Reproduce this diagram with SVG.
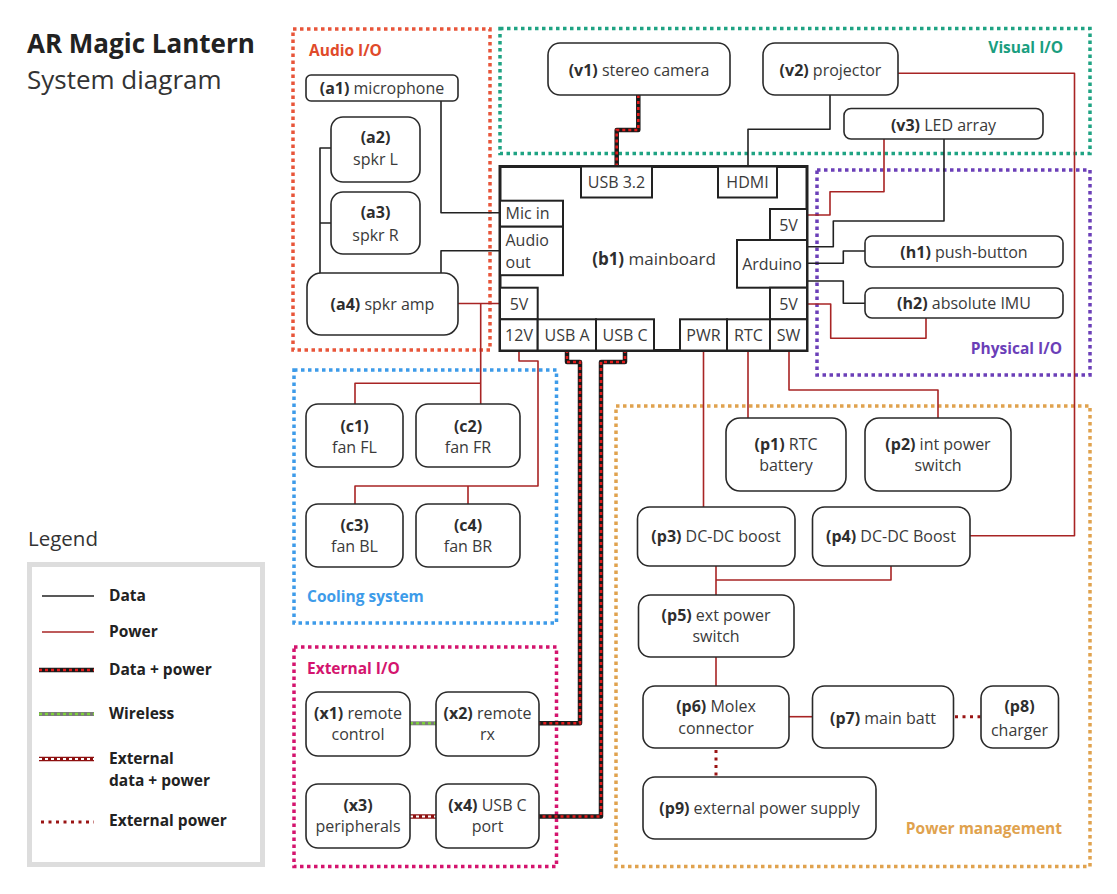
<svg xmlns="http://www.w3.org/2000/svg" width="1117" height="894" viewBox="0 0 1117 894">
<style>
text{font-family:"Open Sans","Noto Sans","Liberation Sans",sans-serif;fill:#3a3a3a;}
.t{font-size:16px;text-anchor:middle;}
.s{font-size:16px;}
.b{font-weight:bold;fill:#2e2e2e;}
.grp{fill:none;stroke-width:3.5;stroke-dasharray:3.5 3.5;}
.glab{font-size:15.5px;font-weight:bold;}
.lg{font-size:15.5px;font-weight:bold;fill:#222;}
.node{fill:#fff;stroke:#2a2a2a;stroke-width:1.6;}
.board{fill:#fff;stroke:#222;stroke-width:3;}
.sub{fill:#fff;stroke:#222;stroke-width:2;}
.data{fill:none;stroke:#222;stroke-width:1.6;stroke-linejoin:round;}
.pow{fill:none;stroke:#a82424;stroke-width:1.6;stroke-linejoin:round;}
.dpb{fill:none;stroke:#1a1a1a;stroke-width:4.5;stroke-linejoin:round;}
.dpd{fill:none;stroke:#e21b1b;stroke-width:2.6;stroke-dasharray:3 3;}
.wlb{fill:none;stroke:#7a7a7a;stroke-width:4;}
.wld{fill:none;stroke:#7dd13a;stroke-width:2.6;stroke-dasharray:3 3;}
.edb{fill:none;stroke:#8e1010;stroke-width:4.5;}
.edd{fill:none;stroke:#fff;stroke-width:2;stroke-dasharray:3 3;}
.ep{fill:none;stroke:#9a1414;stroke-width:3;stroke-dasharray:3 4.5;}
</style>
<rect width="1117" height="894" fill="#fff"/>

<!-- Title -->
<text x="27" y="53" style="font-size:26px;font-weight:bold;fill:#222">AR Magic Lantern</text>
<text x="27" y="89" style="font-size:26px;fill:#333">System diagram</text>

<!-- Group borders -->
<g id="groups">
<rect class="grp" x="293" y="29" width="197" height="321" stroke="#e8553a"/>
<text class="glab" x="309" y="56" style="fill:#e04a2a">Audio I/O</text>
<rect class="grp" x="500" y="28.5" width="590" height="125" stroke="#1fa383"/>
<text class="glab" x="1063" y="53" text-anchor="end" style="fill:#1a9e80">Visual I/O</text>
<rect class="grp" x="817" y="170" width="273" height="205" stroke="#6b3fb8"/>
<text class="glab" x="1062" y="354" text-anchor="end" style="fill:#6b3fb8">Physical I/O</text>
<rect class="grp" x="294" y="370" width="262.5" height="253" stroke="#3d9be9"/>
<text class="glab" x="307" y="602" style="fill:#3d9be9">Cooling system</text>
<rect class="grp" x="294" y="647" width="262.5" height="219.5" stroke="#d4146e"/>
<text class="glab" x="307" y="674" style="fill:#d4146e">External I/O</text>
<rect class="grp" x="616" y="406" width="474" height="460.5" stroke="#e0a24e"/>
<text class="glab" x="1062" y="834" text-anchor="end" style="fill:#e0a24e">Power management</text>
</g>

<!-- Connectors -->
<g id="connectors">
<path class="data" d="M441,101 V212.7 H500"/>
<path class="data" d="M331,148 H320 V273 M320,223 H331"/>
<path class="data" d="M441,273 V250.7 H500"/>
<path class="data" d="M830,95 V129.3 H748 V166"/>
<path class="data" d="M944,139 V221 H833.3 V246.7 H807"/>
<path class="data" d="M865,251 H843.3 V263.3 H807"/>
<path class="data" d="M865,303.3 H843.3 V281 H807"/>

<path class="pow" d="M458,303.5 H500"/>
<path class="pow" d="M480.7,303.5 V404 M480.7,383.3 H355 V404"/>
<path class="pow" d="M519,350 V361 H538 V486 H355 V504 M468,486 V504"/>
<path class="pow" d="M884,139 V191.7 H830 V215 H807"/>
<path class="pow" d="M926,317.5 V338.3 H830.7 V304 H807"/>
<path class="pow" d="M898,73.3 H1074.5 V535.7 H970"/>
<path class="pow" d="M703.5,350 V507"/>
<path class="pow" d="M748,350 V418"/>
<path class="pow" d="M789,350 V390 H938 V418"/>
<path class="pow" d="M716,566 V595"/>
<path class="pow" d="M891,566 V580 H716"/>
<path class="pow" d="M716,657 V686"/>
<path class="pow" d="M789,716.7 H812"/>

<path class="dpb" d="M638.3,95 V130 H616.7 V166"/>
<path class="dpd" d="M638.3,95 V130 H616.7 V166"/>
<path class="dpb" d="M567,350 V362 H580 V723.3 H539"/>
<path class="dpd" d="M567,350 V362 H580 V723.3 H539"/>
<path class="dpb" d="M625,350 V362 H601 V816.5 H539"/>
<path class="dpd" d="M625,350 V362 H601 V816.5 H539"/>

<path class="wlb" d="M410,723.3 H436"/>
<path class="wld" d="M410,723.3 H436"/>
<path class="edb" d="M410,816.5 H436"/>
<path class="edd" d="M410,816.5 H436"/>
<path class="ep" d="M955,716.7 H981"/>
<path class="ep" d="M716,750 V777"/>
</g>

<!-- Mainboard -->
<g id="b1">
<rect class="board" x="500" y="166.5" width="307" height="184"/>
<rect class="sub" x="581" y="166.5" width="71" height="31"/>
<text class="t" x="616.5" y="187.5">USB 3.2</text>
<rect class="sub" x="718" y="166.5" width="59" height="31"/>
<text class="t" x="747.5" y="187.5">HDMI</text>
<rect class="sub" x="500" y="200.7" width="63" height="26"/>
<text class="s" x="505.5" y="219">Mic in</text>
<rect class="sub" x="500" y="226.7" width="63" height="48.5"/>
<text class="s" x="505.5" y="245.5">Audio</text>
<text class="s" x="505.5" y="267.5">out</text>
<rect class="sub" x="770" y="209" width="37" height="31"/>
<text class="t" x="788.5" y="230.5">5V</text>
<rect class="sub" x="737" y="240" width="70" height="47.7"/>
<text class="t" x="772" y="270">Arduino</text>
<rect class="sub" x="770" y="287.7" width="37" height="31.6"/>
<text class="t" x="788.5" y="310">5V</text>
<rect class="sub" x="500" y="287.7" width="37.7" height="31.6"/>
<text class="t" x="519" y="310">5V</text>
<rect class="sub" x="500" y="319.3" width="37.7" height="31.2"/>
<text class="t" x="519" y="340.5">12V</text>
<rect class="sub" x="537.7" y="319.3" width="58.3" height="31.2"/>
<text class="t" x="567" y="340.5">USB A</text>
<rect class="sub" x="596" y="319.3" width="58" height="31.2"/>
<text class="t" x="625" y="340.5">USB C</text>
<rect class="sub" x="680" y="319.3" width="47" height="31.2"/>
<text class="t" x="703.5" y="340.5">PWR</text>
<rect class="sub" x="727" y="319.3" width="43" height="31.2"/>
<text class="t" x="748.5" y="340.5">RTC</text>
<rect class="sub" x="770" y="319.3" width="37" height="31.2"/>
<text class="t" x="788.5" y="340.5">SW</text>
<text class="t" x="654" y="265" style="font-size:17px"><tspan class="b">(b1)</tspan> mainboard</text>
</g>

<!-- Audio -->
<g id="a1"><rect class="node" x="306" y="75" width="152" height="26" rx="5"/>
<text class="t" x="382" y="93.5"><tspan class="b">(a1)</tspan> microphone</text></g>
<g id="a2"><rect class="node" x="331" y="117" width="89" height="65" rx="12"/>
<text class="t b" x="375.5" y="143">(a2)</text><text class="t" x="375.5" y="164.5">spkr L</text></g>
<g id="a3"><rect class="node" x="331" y="192" width="89" height="62" rx="12"/>
<text class="t b" x="375.5" y="218">(a3)</text><text class="t" x="375.5" y="241">spkr R</text></g>
<g id="a4"><rect class="node" x="307" y="273" width="151" height="62" rx="14"/>
<text class="t" x="382.5" y="309.5"><tspan class="b">(a4)</tspan> spkr amp</text></g>

<!-- Visual -->
<g id="v1"><rect class="node" x="548" y="43" width="182" height="52" rx="12"/>
<text class="t" x="639" y="75.5"><tspan class="b">(v1)</tspan> stereo camera</text></g>
<g id="v2"><rect class="node" x="763" y="43" width="135" height="52" rx="12"/>
<text class="t" x="830.5" y="75.5"><tspan class="b">(v2)</tspan> projector</text></g>
<g id="v3"><rect class="node" x="844" y="108.5" width="199" height="30.5" rx="7"/>
<text class="t" x="943.5" y="130.5"><tspan class="b">(v3)</tspan> LED array</text></g>

<!-- Physical -->
<g id="h1"><rect class="node" x="865" y="236" width="198" height="31" rx="7"/>
<text class="t" x="964" y="257.5"><tspan class="b">(h1)</tspan> push-button</text></g>
<g id="h2"><rect class="node" x="865" y="288" width="198" height="30" rx="7"/>
<text class="t" x="964" y="309"><tspan class="b">(h2)</tspan> absolute IMU</text></g>

<!-- Cooling -->
<g id="c1"><rect class="node" x="306" y="404" width="97" height="63" rx="12"/>
<text class="t b" x="354.5" y="432">(c1)</text><text class="t" x="354.5" y="452.5">fan FL</text></g>
<g id="c2"><rect class="node" x="416" y="404" width="104" height="63" rx="12"/>
<text class="t b" x="468" y="432">(c2)</text><text class="t" x="468" y="452.5">fan FR</text></g>
<g id="c3"><rect class="node" x="306" y="504" width="97" height="63" rx="12"/>
<text class="t b" x="354.5" y="531">(c3)</text><text class="t" x="354.5" y="551.5">fan BL</text></g>
<g id="c4"><rect class="node" x="416" y="504" width="104" height="63" rx="12"/>
<text class="t b" x="468" y="531">(c4)</text><text class="t" x="468" y="551.5">fan BR</text></g>

<!-- External -->
<g id="x1"><rect class="node" x="306" y="692" width="104" height="64" rx="12"/>
<text class="t" x="358" y="718.5"><tspan class="b">(x1)</tspan> remote</text><text class="t" x="358" y="740">control</text></g>
<g id="x2"><rect class="node" x="436" y="692" width="103" height="64" rx="12"/>
<text class="t" x="487.5" y="718.5"><tspan class="b">(x2)</tspan> remote</text><text class="t" x="487.5" y="740">rx</text></g>
<g id="x3"><rect class="node" x="306" y="784" width="104" height="64" rx="12"/>
<text class="t b" x="358" y="811">(x3)</text><text class="t" x="358" y="832">peripherals</text></g>
<g id="x4"><rect class="node" x="436" y="784" width="103" height="64" rx="12"/>
<text class="t" x="487.5" y="811"><tspan class="b">(x4)</tspan> USB C</text><text class="t" x="487.5" y="832">port</text></g>

<!-- Power -->
<g id="p1"><rect class="node" x="726" y="418" width="120" height="73" rx="14"/>
<text class="t" x="786" y="450"><tspan class="b">(p1)</tspan> RTC</text><text class="t" x="786" y="471">battery</text></g>
<g id="p2"><rect class="node" x="865" y="418" width="146" height="73" rx="14"/>
<text class="t" x="938" y="450"><tspan class="b">(p2)</tspan> int power</text><text class="t" x="938" y="471">switch</text></g>
<g id="p3"><rect class="node" x="637.5" y="507" width="157.5" height="59" rx="12"/>
<text class="t" x="716" y="541.5"><tspan class="b">(p3)</tspan> DC-DC boost</text></g>
<g id="p4"><rect class="node" x="812.5" y="507" width="157.5" height="59" rx="12"/>
<text class="t" x="891" y="541.5"><tspan class="b">(p4)</tspan> DC-DC Boost</text></g>
<g id="p5"><rect class="node" x="638.5" y="595" width="155.5" height="62" rx="12"/>
<text class="t" x="716" y="620.5"><tspan class="b">(p5)</tspan> ext power</text><text class="t" x="716" y="641.5">switch</text></g>
<g id="p6"><rect class="node" x="643" y="686" width="146" height="62" rx="12"/>
<text class="t" x="716" y="712"><tspan class="b">(p6)</tspan> Molex</text><text class="t" x="716" y="733.5">connector</text></g>
<g id="p7"><rect class="node" x="812.5" y="686" width="141" height="62" rx="12"/>
<text class="t" x="883" y="723.5"><tspan class="b">(p7)</tspan> main batt</text></g>
<g id="p8"><rect class="node" x="981" y="686" width="77.5" height="62" rx="12"/>
<text class="t b" x="1019.5" y="712">(p8)</text><text class="t" x="1019.5" y="735.5">charger</text></g>
<g id="p9"><rect class="node" x="643" y="777" width="233" height="62" rx="12"/>
<text class="t" x="759.5" y="813.5"><tspan class="b">(p9)</tspan> external power supply</text></g>

<!-- Legend -->
<g id="legend">
<text x="28" y="546" style="font-size:20.5px;fill:#333">Legend</text>
<rect x="29.5" y="564.5" width="233" height="300" fill="#fff" stroke="#dddddd" stroke-width="5"/>
<path class="data" d="M42,596 H94"/>
<text class="lg" x="109" y="601">Data</text>
<path class="pow" d="M42,632 H94"/>
<text class="lg" x="109" y="637">Power</text>
<path class="dpb" d="M39,670 H94"/><path class="dpd" d="M39,670 H94"/>
<text class="lg" x="109" y="675">Data + power</text>
<path class="wlb" d="M39,714 H94"/><path class="wld" d="M39,714 H94"/>
<text class="lg" x="109" y="719">Wireless</text>
<path class="edb" d="M39,759 H94"/><path class="edd" d="M39,759 H94"/>
<text class="lg" x="109" y="764">External</text>
<text class="lg" x="109" y="786">data + power</text>
<path class="ep" d="M41,822 H94"/>
<text class="lg" x="109" y="826">External power</text>
</g>
</svg>
